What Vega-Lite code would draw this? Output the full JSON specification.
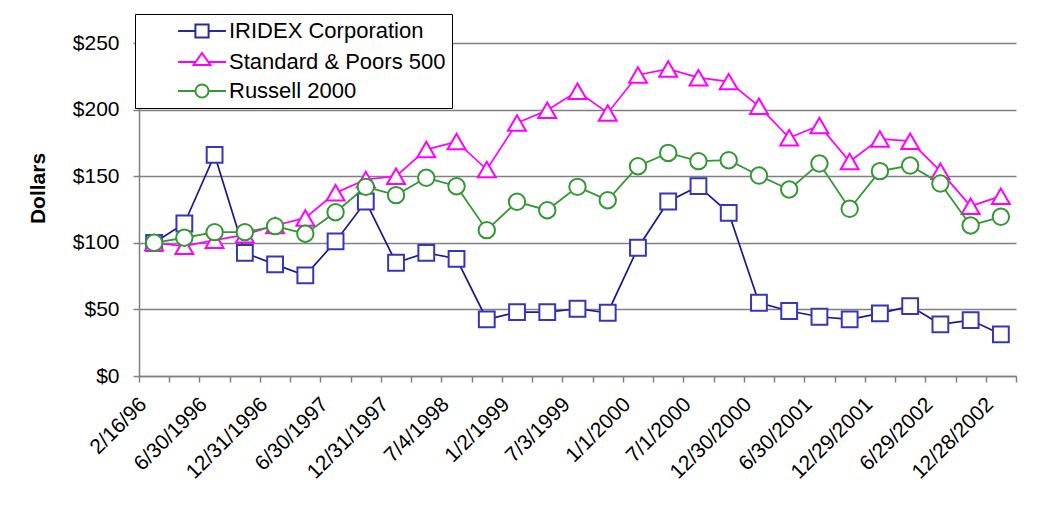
{
  "$schema": "https://vega.github.io/schema/vega-lite/v6.json",
  "autosize": {"type": "none"},
  "width": 877,
  "height": 333,
  "padding": {"left": 139, "top": 43, "right": 39, "bottom": 133},
  "background": "white",
  "config": {
    "view": {"stroke": null},
    "font": "Liberation Sans",
    "axis": {"labelFont": "Liberation Sans", "titleFont": "Liberation Sans", "labelColor": "black", "titleColor": "black"}
  },
  "data": {"values": [
    {"date": "2/16/96", "series": "IRIDEX Corporation", "value": 100},
    {"date": "3/31/1996", "series": "IRIDEX Corporation", "value": 114.5},
    {"date": "6/30/1996", "series": "IRIDEX Corporation", "value": 166},
    {"date": "9/30/1996", "series": "IRIDEX Corporation", "value": 92.5},
    {"date": "12/31/1996", "series": "IRIDEX Corporation", "value": 83.8},
    {"date": "3/31/1997", "series": "IRIDEX Corporation", "value": 75.5},
    {"date": "6/30/1997", "series": "IRIDEX Corporation", "value": 101},
    {"date": "9/30/1997", "series": "IRIDEX Corporation", "value": 131},
    {"date": "12/31/1997", "series": "IRIDEX Corporation", "value": 85},
    {"date": "4/3/1998", "series": "IRIDEX Corporation", "value": 92.5},
    {"date": "7/4/1998", "series": "IRIDEX Corporation", "value": 88},
    {"date": "10/3/1998", "series": "IRIDEX Corporation", "value": 42.5},
    {"date": "1/2/1999", "series": "IRIDEX Corporation", "value": 48},
    {"date": "4/3/1999", "series": "IRIDEX Corporation", "value": 48},
    {"date": "7/3/1999", "series": "IRIDEX Corporation", "value": 50.5},
    {"date": "10/2/1999", "series": "IRIDEX Corporation", "value": 47.5},
    {"date": "1/1/2000", "series": "IRIDEX Corporation", "value": 96.3},
    {"date": "4/1/2000", "series": "IRIDEX Corporation", "value": 131},
    {"date": "7/1/2000", "series": "IRIDEX Corporation", "value": 142.5},
    {"date": "9/30/2000", "series": "IRIDEX Corporation", "value": 122.5},
    {"date": "12/30/2000", "series": "IRIDEX Corporation", "value": 55},
    {"date": "3/31/2001", "series": "IRIDEX Corporation", "value": 48.8},
    {"date": "6/30/2001", "series": "IRIDEX Corporation", "value": 44.5},
    {"date": "9/29/2001", "series": "IRIDEX Corporation", "value": 42.5},
    {"date": "12/29/2001", "series": "IRIDEX Corporation", "value": 47},
    {"date": "3/30/2002", "series": "IRIDEX Corporation", "value": 52.5},
    {"date": "6/29/2002", "series": "IRIDEX Corporation", "value": 38.8},
    {"date": "9/28/2002", "series": "IRIDEX Corporation", "value": 42},
    {"date": "12/28/2002", "series": "IRIDEX Corporation", "value": 31.3},
    {"date": "2/16/96", "series": "Standard & Poors 500", "value": 100},
    {"date": "3/31/1996", "series": "Standard & Poors 500", "value": 97.5},
    {"date": "6/30/1996", "series": "Standard & Poors 500", "value": 102},
    {"date": "9/30/1996", "series": "Standard & Poors 500", "value": 106},
    {"date": "12/31/1996", "series": "Standard & Poors 500", "value": 113},
    {"date": "3/31/1997", "series": "Standard & Poors 500", "value": 118.7},
    {"date": "6/30/1997", "series": "Standard & Poors 500", "value": 137.5},
    {"date": "9/30/1997", "series": "Standard & Poors 500", "value": 147.5},
    {"date": "12/31/1997", "series": "Standard & Poors 500", "value": 150},
    {"date": "4/3/1998", "series": "Standard & Poors 500", "value": 170},
    {"date": "7/4/1998", "series": "Standard & Poors 500", "value": 176},
    {"date": "10/3/1998", "series": "Standard & Poors 500", "value": 155},
    {"date": "1/2/1999", "series": "Standard & Poors 500", "value": 190},
    {"date": "4/3/1999", "series": "Standard & Poors 500", "value": 199.5},
    {"date": "7/3/1999", "series": "Standard & Poors 500", "value": 213.8},
    {"date": "10/2/1999", "series": "Standard & Poors 500", "value": 197.5},
    {"date": "1/1/2000", "series": "Standard & Poors 500", "value": 226},
    {"date": "4/1/2000", "series": "Standard & Poors 500", "value": 230.5},
    {"date": "7/1/2000", "series": "Standard & Poors 500", "value": 224},
    {"date": "9/30/2000", "series": "Standard & Poors 500", "value": 221},
    {"date": "12/30/2000", "series": "Standard & Poors 500", "value": 202.5},
    {"date": "3/31/2001", "series": "Standard & Poors 500", "value": 178.8},
    {"date": "6/30/2001", "series": "Standard & Poors 500", "value": 188},
    {"date": "9/29/2001", "series": "Standard & Poors 500", "value": 161},
    {"date": "12/29/2001", "series": "Standard & Poors 500", "value": 178},
    {"date": "3/30/2002", "series": "Standard & Poors 500", "value": 176.3},
    {"date": "6/29/2002", "series": "Standard & Poors 500", "value": 153.8},
    {"date": "9/28/2002", "series": "Standard & Poors 500", "value": 127.5},
    {"date": "12/28/2002", "series": "Standard & Poors 500", "value": 135},
    {"date": "2/16/96", "series": "Russell 2000", "value": 100},
    {"date": "3/31/1996", "series": "Russell 2000", "value": 103.8},
    {"date": "6/30/1996", "series": "Russell 2000", "value": 108},
    {"date": "9/30/1996", "series": "Russell 2000", "value": 108},
    {"date": "12/31/1996", "series": "Russell 2000", "value": 112.5},
    {"date": "3/31/1997", "series": "Russell 2000", "value": 106.8},
    {"date": "6/30/1997", "series": "Russell 2000", "value": 123},
    {"date": "9/30/1997", "series": "Russell 2000", "value": 142},
    {"date": "12/31/1997", "series": "Russell 2000", "value": 135.8},
    {"date": "4/3/1998", "series": "Russell 2000", "value": 148.8},
    {"date": "7/4/1998", "series": "Russell 2000", "value": 142.5},
    {"date": "10/3/1998", "series": "Russell 2000", "value": 109.5},
    {"date": "1/2/1999", "series": "Russell 2000", "value": 130.8},
    {"date": "4/3/1999", "series": "Russell 2000", "value": 124.5},
    {"date": "7/3/1999", "series": "Russell 2000", "value": 142},
    {"date": "10/2/1999", "series": "Russell 2000", "value": 132},
    {"date": "1/1/2000", "series": "Russell 2000", "value": 157.5},
    {"date": "4/1/2000", "series": "Russell 2000", "value": 167.5},
    {"date": "7/1/2000", "series": "Russell 2000", "value": 161.3},
    {"date": "9/30/2000", "series": "Russell 2000", "value": 162},
    {"date": "12/30/2000", "series": "Russell 2000", "value": 150.5},
    {"date": "3/31/2001", "series": "Russell 2000", "value": 140},
    {"date": "6/30/2001", "series": "Russell 2000", "value": 159.5},
    {"date": "9/29/2001", "series": "Russell 2000", "value": 125.5},
    {"date": "12/29/2001", "series": "Russell 2000", "value": 153.8},
    {"date": "3/30/2002", "series": "Russell 2000", "value": 158},
    {"date": "6/29/2002", "series": "Russell 2000", "value": 144.5},
    {"date": "9/28/2002", "series": "Russell 2000", "value": 113},
    {"date": "12/28/2002", "series": "Russell 2000", "value": 119.5}
  ]},
  "encoding": {
    "x": {
      "field": "date", "type": "ordinal",
      "scale": {"type": "band", "paddingInner": 0, "paddingOuter": 0,
        "domain": ["2/16/96","3/31/1996","6/30/1996","9/30/1996","12/31/1996","3/31/1997","6/30/1997","9/30/1997","12/31/1997","4/3/1998","7/4/1998","10/3/1998","1/2/1999","4/3/1999","7/3/1999","10/2/1999","1/1/2000","4/1/2000","7/1/2000","9/30/2000","12/30/2000","3/31/2001","6/30/2001","9/29/2001","12/29/2001","3/30/2002","6/29/2002","9/28/2002","12/28/2002"]},
      "axis": {
        "title": null,
        "tickBand": "extent",
        "labelExpr": "indexof(['2/16/96','6/30/1996','12/31/1996','6/30/1997','12/31/1997','7/4/1998','1/2/1999','7/3/1999','1/1/2000','7/1/2000','12/30/2000','6/30/2001','12/29/2001','6/29/2002','12/28/2002'], datum.value) >= 0 ? datum.value : ''",
        "labelAngle": -45,
        "labelAlign": "right",
        "labelBaseline": "middle",
        "labelFontSize": 21,
        "labelPadding": 19,
        "labelOffset": -11,
        "labelOverlap": false,
        "labelBound": false,
        "domainColor": "#808080",
        "domainWidth": 1.5,
        "tickColor": "#808080",
        "tickWidth": 1.5,
        "tickSize": 6,
        "grid": false
      }
    },
    "y": {
      "field": "value", "type": "quantitative",
      "scale": {"domain": [0, 250], "nice": false, "zero": true},
      "axis": {
        "title": "Dollars",
        "titleFontSize": 21,
        "titleFontWeight": "bold",
        "titleAngle": 270,
        "titleX": -101,
        "titleY": 145,
        "titleAlign": "center",
        "titleBaseline": "middle",
        "values": [0, 50, 100, 150, 200, 250],
        "labelExpr": "'$' + datum.value",
        "labelFontSize": 21,
        "labelPadding": 14,
        "domainColor": "#808080",
        "domainWidth": 1.5,
        "tickColor": "#808080",
        "tickWidth": 1.5,
        "tickSize": 6,
        "grid": true,
        "gridColor": "#808080",
        "gridWidth": 1.5
      }
    }
  },
  "layer": [
    {"transform": [{"filter": "datum.series == 'IRIDEX Corporation'"}],
     "mark": {"type": "line", "color": "#1a1a8c", "strokeWidth": 1.7}},
    {"transform": [{"filter": "datum.series == 'IRIDEX Corporation'"}],
     "mark": {"type": "point", "shape": "square", "size": 250, "filled": false, "fill": "white", "stroke": "#3636b8", "strokeWidth": 2, "opacity": 1}},
    {"transform": [{"filter": "datum.series == 'Standard & Poors 500'"}],
     "mark": {"type": "line", "color": "#ff00ff", "strokeWidth": 1.7}},
    {"transform": [{"filter": "datum.series == 'Standard & Poors 500'"}],
     "mark": {"type": "point", "shape": "triangle-up", "size": 320, "filled": false, "fill": "white", "stroke": "#ff00ff", "strokeWidth": 2, "opacity": 1}},
    {"transform": [{"filter": "datum.series == 'Russell 2000'"}],
     "mark": {"type": "line", "color": "#339933", "strokeWidth": 1.8}},
    {"transform": [{"filter": "datum.series == 'Russell 2000'"}],
     "mark": {"type": "point", "shape": "circle", "size": 270, "filled": false, "fill": "white", "stroke": "#339933", "strokeWidth": 2, "opacity": 1}},
    {"transform": [{"filter": "datum.value < 0"}],
     "mark": {"type": "point", "filled": false, "opacity": 1, "strokeWidth": 2},
     "encoding": {
       "color": {"field": "series", "type": "nominal",
         "scale": {"domain": ["IRIDEX Corporation", "Standard & Poors 500", "Russell 2000"], "range": ["#2a2aa0", "#ff00ff", "#339933"]},
         "legend": {
           "title": null,
           "orient": "none",
           "legendX": -4,
           "legendY": -29,
           "strokeColor": "black",
           "fillColor": "white",
           "padding": 6,
           "symbolSize": 144,
           "symbolStrokeWidth": 2,
           "symbolOffset": 50,
           "labelOffset": 16,
           "labelFont": "Liberation Sans",
           "labelFontSize": 22,
           "labelColor": "black",
           "labelLimit": 400,
           "rowPadding": 7
         }},
       "shape": {"field": "series", "type": "nominal",
         "scale": {"domain": ["IRIDEX Corporation", "Standard & Poors 500", "Russell 2000"],
           "range": [
             "M-4,0H-1.1M1.1,0H4M-1.1,-1.1H1.1V1.1H-1.1Z",
             "M-4,0H-1.05M1.05,0H4M0,-1.5L1.4,0.5H-1.4Z",
             "M-4,0H-1.1M1.1,0H4M1.1,0A1.1,1.1,0,1,1,-1.1,0A1.1,1.1,0,1,1,1.1,0Z"
           ]},
         "legend": {
           "title": null,
           "orient": "none",
           "legendX": -4,
           "legendY": -29,
           "strokeColor": "black",
           "fillColor": "white",
           "padding": 6,
           "symbolSize": 144,
           "symbolStrokeWidth": 2,
           "symbolOffset": 50,
           "labelOffset": 16,
           "labelFont": "Liberation Sans",
           "labelFontSize": 22,
           "labelColor": "black",
           "labelLimit": 400,
           "rowPadding": 7
         }}
     }}
  ]
}
